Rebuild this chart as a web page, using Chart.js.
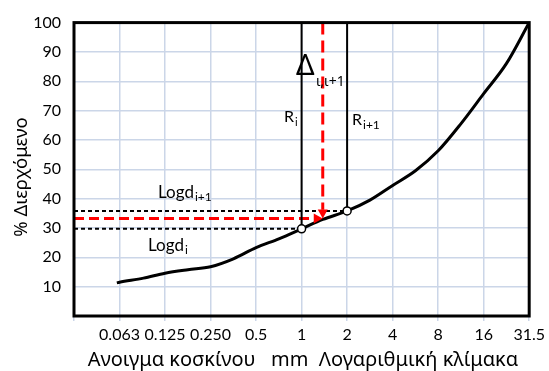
<!DOCTYPE html>
<html>
<head>
<meta charset="utf-8">
<script src="https://cdn.jsdelivr.net/npm/chart.js"></script>
<style>
    html, body { margin: 0; padding: 0; background: #fff; }
</style>
</head>
<body>
<canvas id="grading" width="549" height="371"></canvas>
<script>
// sieve openings (mm), drawn on a log2 axis
const sieveTicks = [0.03125, 0.0625, 0.125, 0.25, 0.5, 1, 2, 4, 8, 16, 32];
const sieveLabels = ["", "0.063", "0.125", "0.250", "0.5", "1", "2", "4", "8", "16", "31.5"];

// grading curve (% passing)
const curveSize = [0.06, 0.0625, 0.09, 0.125, 0.177, 0.25, 0.354, 0.5, 0.707, 1, 1.38, 2, 2.83, 4, 5.66, 8, 11.3, 16, 22.6, 32];
const curvePass = [11.3, 11.5, 12.9, 14.6, 15.8, 16.8, 19.5, 23.3, 26.3, 29.7, 32.9, 35.8, 39.5, 44.5, 49.5, 56.3, 65.5, 75.8, 86, 100];

// the two sieves R_i, R_i+1 and the interpolated point
const markSize = [1, 2];
const markPass = [29.7, 35.8];
const redSize = 1.38;
const redPass = 33.2;

const xMin = 0.03125, xMax = 32;
const font = "Lato, 'Noto Sans', sans-serif";
const greek = "'Noto Sans', 'Open Sans', sans-serif";
const gridColor = "#cbd6e8";

function seg(x1, y1, x2, y2) {
    return [{ x: x1, y: y1 }, { x: x2, y: y2 }];
}

function subText(ctx, main, sub, x, y, size, subSize, drop) {
    ctx.font = size + "px " + font;
    ctx.fillText(main, x, y);
    const w = ctx.measureText(main).width;
    ctx.font = subSize + "px " + font;
    ctx.fillText(sub, x + w + 1, y + drop);
}

const overlay = {
    id: "overlay",
    afterDatasetsDraw(chart) {
        const { ctx, chartArea: a, scales: { x, y } } = chart;
        ctx.save();

        // red arrow heads
        const ax = x.getPixelForValue(redSize);
        const ay = y.getPixelForValue(redPass);
        ctx.fillStyle = "#ff0000";
        ctx.beginPath();
        ctx.moveTo(ax - 5, ay - 9);
        ctx.lineTo(ax + 5, ay - 9);
        ctx.lineTo(ax, ay);
        ctx.fill();
        ctx.beginPath();
        ctx.moveTo(ax - 9, ay - 5);
        ctx.lineTo(ax - 9, ay + 5);
        ctx.lineTo(ax, ay);
        ctx.fill();

        // frame
        ctx.strokeStyle = "#000";
        ctx.lineWidth = 3;
        ctx.strokeRect(a.left, a.top, a.right - a.left, a.bottom - a.top);

        // annotations
        ctx.fillStyle = "#000";
        ctx.textBaseline = "alphabetic";
        ctx.textAlign = "left";
        ctx.font = "29px " + greek;
        ctx.fillText("Δ", 296, 75);
        ctx.font = "14px " + greek;
        ctx.fillText("ι,ι+1", 316, 86);
        subText(ctx, "R", "i", 284, 122, 16, 11, 4);
        subText(ctx, "R", "i+1", 352, 125, 16, 12, 4);
        subText(ctx, "Logd", "i+1", 158, 198, 17, 12, 3);
        subText(ctx, "Logd", "i", 148, 251, 17, 12, 3);

        // axis titles
        ctx.font = "20px " + greek;
        ctx.textAlign = "center";
        ctx.fillText("Ανοιγμα κοσκίνου   mm  Λογαριθμική κλίμακα", 303, 366);
        ctx.font = "18.5px " + greek;
        ctx.translate(27, 177);
        ctx.rotate(-Math.PI / 2);
        ctx.fillText("% Διερχόμενο", 0, 0);
        ctx.restore();
    }
};

const lineStyle = { showLine: true, pointRadius: 0, fill: false };

new Chart(document.getElementById("grading"), {
    type: "scatter",
    data: {
        datasets: [
            {
                data: markSize.map((s, i) => ({ x: s, y: markPass[i] })),
                pointRadius: 4,
                pointBackgroundColor: "#fff",
                pointBorderColor: "#000",
                pointBorderWidth: 1.5,
                showLine: false,
            },
            {
                ...lineStyle,
                data: curveSize.map((s, i) => ({ x: s, y: curvePass[i] })),
                borderColor: "#000",
                borderWidth: 3,
                cubicInterpolationMode: "monotone",
            },
            { ...lineStyle, data: seg(markSize[0], 100, markSize[0], markPass[0]), borderColor: "#000", borderWidth: 2 },
            { ...lineStyle, data: seg(markSize[1], 100, markSize[1], markPass[1]), borderColor: "#000", borderWidth: 2 },
            { ...lineStyle, data: seg(xMin, markPass[0], markSize[0], markPass[0]), borderColor: "#000", borderWidth: 2, borderDash: [4, 3] },
            { ...lineStyle, data: seg(xMin, markPass[1], markSize[1], markPass[1]), borderColor: "#000", borderWidth: 2, borderDash: [4, 3] },
            { ...lineStyle, data: seg(xMin, redPass, redSize * 0.9, redPass), borderColor: "#ff0000", borderWidth: 3, borderDash: [10, 5] },
            { ...lineStyle, data: seg(redSize, 100, redSize, redPass + 3), borderColor: "#ff0000", borderWidth: 3, borderDash: [12, 6] },
        ],
    },
    options: {
        responsive: false,
        animation: false,
        devicePixelRatio: 1,
        layout: { padding: { top: 15, right: 16, left: 0, bottom: 0 } },
        plugins: { legend: { display: false }, tooltip: { enabled: false } },
        scales: {
            x: {
                type: "logarithmic",
                min: xMin,
                max: xMax,
                afterBuildTicks: (s) => { s.ticks = sieveTicks.map((v) => ({ value: v })); },
                afterFit: (s) => { s.height = 55; },
                ticks: {
                    callback: (v, i) => sieveLabels[i],
                    autoSkip: false,
                    maxRotation: 0,
                    padding: 4,
                    color: "#000",
                    font: { family: font, size: 16 },
                },
                grid: { color: gridColor, lineWidth: 1.5, tickLength: 5 },
                border: { display: false },
            },
            y: {
                min: 0,
                max: 100,
                afterFit: (s) => { s.width = 74; },
                ticks: {
                    stepSize: 10,
                    callback: (v) => (v === 0 ? "" : v),
                    padding: 13,
                    color: "#000",
                    font: { family: font, size: 16 },
                },
                grid: { color: gridColor, lineWidth: 1.5, drawTicks: false },
                border: { display: false },
            },
        },
    },
    plugins: [overlay],
});
</script>
</body>
</html>
